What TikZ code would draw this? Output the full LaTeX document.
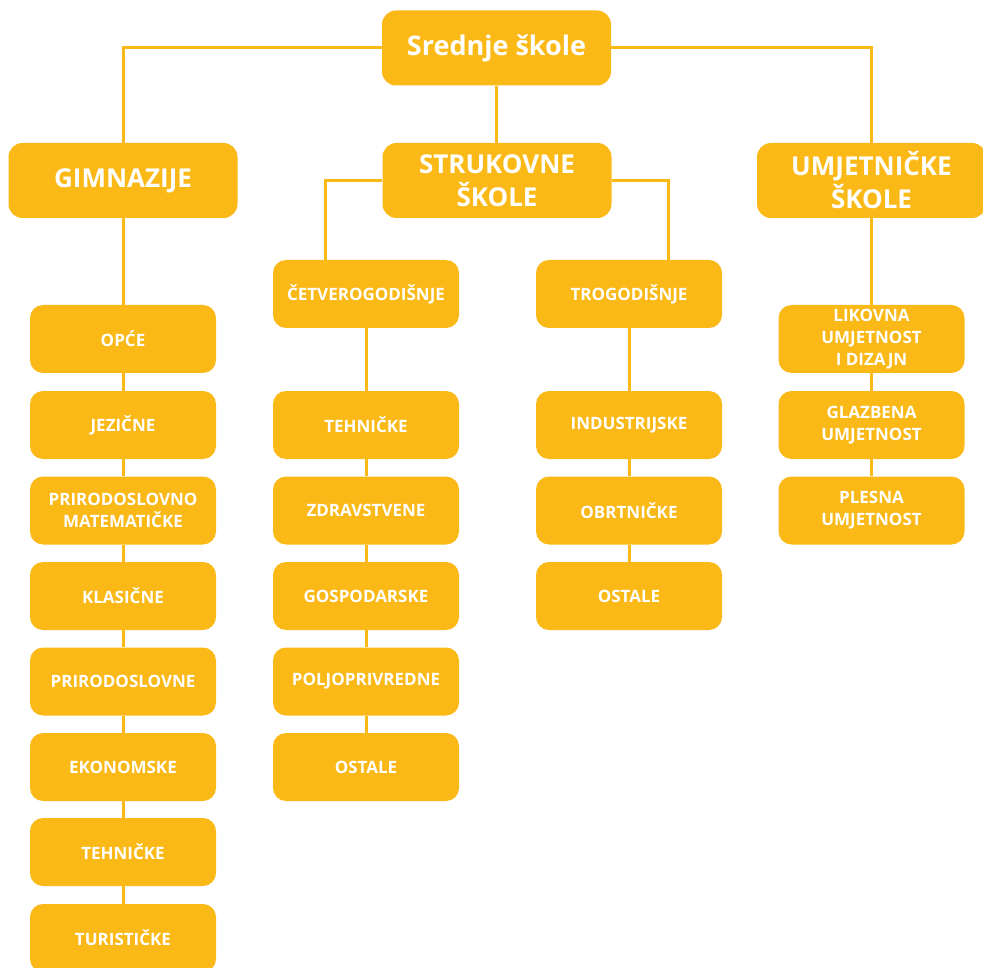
\documentclass[tikz,border=0pt]{standalone}
\usepackage{fontspec}
\setmainfont{Open Sans}
\definecolor{boxy}{HTML}{FBB917}
\begin{document}
\begin{tikzpicture}[x=1pt,y=-1pt,
  box/.style={fill=boxy,rounded corners=14pt,minimum width=229pt,minimum height=75pt,inner sep=2pt,text=white,font=\bfseries\fontsize{26}{33}\selectfont,align=center},
  sub/.style={fill=boxy,rounded corners=13pt,minimum width=186pt,minimum height=68pt,inner sep=2pt,text=white,font=\bfseries\fontsize{17}{22}\selectfont,align=center},
  conn/.style={draw=boxy,line width=3pt}]
\useasboundingbox (0,0) rectangle (983,968);
\node[box,font=\bfseries\fontsize{27}{33}\selectfont] (root) at (496.5,48) {Srednje škole};
\node[box] (gim) at (123,180.5) {GIMNAZIJE};
\node[box] (str) at (497,180.5) {STRUKOVNE\\ŠKOLE};
\node[box] (umj) at (871.5,180.5) {UMJETNIČKE\\ŠKOLE};
\node[sub] (cet) at (366,294) {ČETVEROGODIŠNJE};
\node[sub] (tro) at (629,294) {TROGODIŠNJE};
% gimnazije
\node[sub] (g1) at (123,339) {OPĆE};
\node[sub] (g2) at (123,425) {JEZIČNE};
\node[sub] (g3) at (123,510.5) {PRIRODOSLOVNO\\MATEMATIČKE};
\node[sub] (g4) at (123,596) {KLASIČNE};
\node[sub] (g5) at (123,681.5) {PRIRODOSLOVNE};
\node[sub] (g6) at (123,767) {EKONOMSKE};
\node[sub] (g7) at (123,852) {TEHNIČKE};
\node[sub] (g8) at (123,938) {TURISTIČKE};
% cetverogodisnje
\node[sub] (c1) at (366,425) {TEHNIČKE};
\node[sub] (c2) at (366,510.5) {ZDRAVSTVENE};
\node[sub] (c3) at (366,596) {GOSPODARSKE};
\node[sub] (c4) at (366,681.5) {POLJOPRIVREDNE};
\node[sub] (c5) at (366,767) {OSTALE};
% trogodisnje
\node[sub] (t1) at (629,425) {INDUSTRIJSKE};
\node[sub] (t2) at (629,510.5) {OBRTNIČKE};
\node[sub] (t3) at (629,596) {OSTALE};
% umjetnicke
\node[sub] (u1) at (871.5,339) {LIKOVNA\\UMJETNOST\\I DIZAJN};
\node[sub] (u2) at (871.5,425) {GLAZBENA\\UMJETNOST};
\node[sub] (u3) at (871.5,510.5) {PLESNA\\UMJETNOST};
\coordinate (sl) at (325,181);
\coordinate (sr) at (668,181);
\draw[conn] (root.west) -| (gim.north);
\draw[conn] (root.east) -| (umj.north);
\draw[conn] (root.south) -- (root.south |- str.north);
\draw[conn] (str.west |- sl) -- (sl) -- (cet.north -| sl);
\draw[conn] (str.east |- sr) -- (sr) -- (tro.north -| sr);
\foreach \a/\b in {gim/g1,g1/g2,g2/g3,g3/g4,g4/g5,g5/g6,g6/g7,g7/g8,cet/c1,c1/c2,c2/c3,c3/c4,c4/c5,tro/t1,t1/t2,t2/t3,umj/u1,u1/u2,u2/u3}
  \draw[conn] (\a.south) -- (\b.north);
\end{tikzpicture}
\end{document}
